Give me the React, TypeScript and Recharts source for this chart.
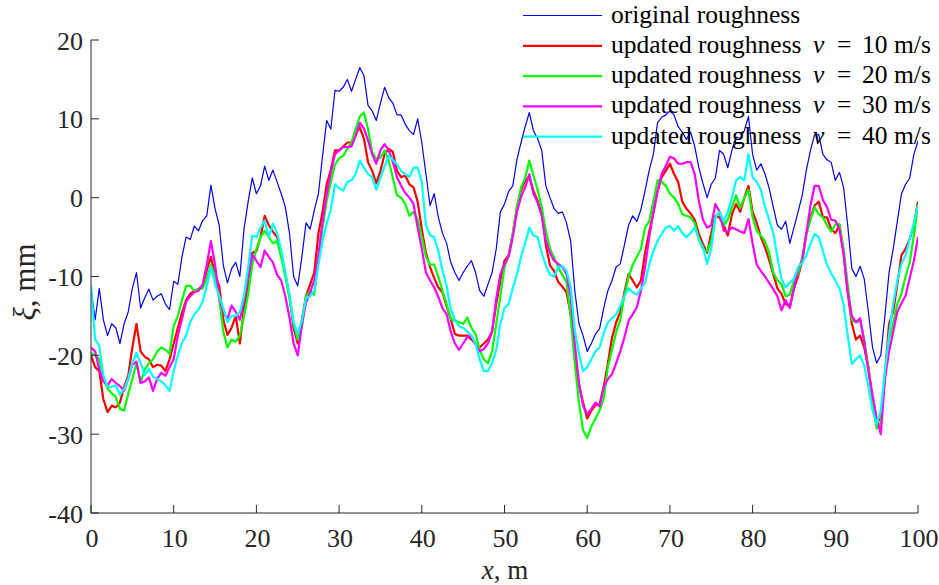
import { Line, LineChart, XAxis, YAxis } from "recharts";

// sampling step along the track, m
const STEP = 0.5;

// original roughness profile, mm (every 0.5 m from 0 to 100 m)
const original = [
  -11.5, -15.5, -11.5, -15.5, -17.5, -16, -16.5, -18.5, -16, -14.5,
  -11.5, -9.5, -14, -12.7, -11.6, -13, -12.5, -12.2, -13.5, -14.2,
  -10.6, -11, -7.5, -5, -5.3, -3.6, -4.2, -2.9, -2.3, 1.6,
  -1.4, -3.5, -8.6, -10.8, -9, -8.2, -10, -4, -0.5, 2.5,
  0.5, 1.5, 4, 2.2, 3.5, 2, 0.5, -1.2, -4.5, -10,
  -11.2, -7.5, -3.2, -4, -1.6, 0.5, 5.3, 9.8, 8.7, 13.6,
  13.5, 14, 15, 13.5, 15, 16.5, 15.5, 11.7, 11, 9.8,
  12, 14, 12.7, 12, 10.5, 10.5, 9.3, 8.5, 8, 10,
  7, 3, -1, 0.5, -2.5, -4.5, -5.8, -8.2, -9.5, -10.5,
  -9.5, -8.7, -8, -9.5, -11.8, -12.5, -11, -9.5, -6.5, -1.8,
  -0.8, 0.8, 1.5, 4.8, 7, 9, 10.8, 8.5, 7.5, 6,
  1.5, 0, -1.4, -2, -1.8, -3.2, -5.5, -11.8, -16, -17.5,
  -19.5, -18.5, -17.3, -16.6, -14, -11.8, -10.5, -8.8, -8.4, -6,
  -3.5, -2.3, -3, -1.5, 0.9, 3.5, 5.5, 9.5, 10.2, 10.5,
  11, 10.5, 9, 8.3, 7.4, 8.3, 6.5, 3.8, 1.8, 0,
  1.7, 2.5, 6, 5.5, 3.8, 6, 7.7, 7.5, 8.5, 10.3,
  5.5, 3.5, 4.3, 3, 1.2, -1.2, -3.5, -4, -3, -5.8,
  -3.8, -1.8, 0.3, 3.5, 6, 8, 8, 5.5, 4.8, 4.5,
  2.2, 3.2, 1.3, -3.5, -9, -10, -8.7, -10.3, -14.5, -19,
  -21, -20, -15, -9.5, -6.5, -3, 0.5, 1.7, 2.5, 5.5,
  7.2,
];

// updated roughness, v = 10 m/s
const v10 = [
  -20, -21.5, -22, -25.6, -27.2, -26.4, -26.6, -26, -24, -22.6,
  -19, -16, -19.5, -20.2, -20.5, -21.5, -21.2, -21.3, -22, -20.5,
  -18.5, -16.5, -14.6, -13, -12.2, -11.8, -11.6, -11.2, -9.2, -7.5,
  -9.8, -11.2, -15.5, -17.4, -16.5, -15, -18.5, -14, -11, -7,
  -6.8, -5, -2.3, -3.5, -4.3, -5, -7.3, -9.7, -12.5, -16.5,
  -18.5, -15.5, -12.5, -11, -9.5, -4.5, -1.8, 1.7, 3.5, 6,
  6, 6.5, 7, 7, 8.1, 8.9, 7.5, 4.5, 3.4, 1.8,
  3.4, 5.5, 6.2, 5.8, 3.4, 2.6, 2.8, 1.7, 1.3, -0.5,
  -4, -7, -8.8, -10.2, -11.4, -12, -13.8, -15.4, -17.3, -17.5,
  -17.5, -17.5, -18, -18.5, -19, -18.5, -18, -17, -13.5, -10.5,
  -8, -7.3, -4.6, -1.2, 0.9, 2.2, 2.6, 0.9, -0.4, -2,
  -6, -8.6, -9.3, -10.7, -11.3, -12, -14.8, -19.5, -23.8, -26,
  -28, -27, -26.3, -26.2, -24, -21, -17.8, -15.8, -14.5, -12,
  -9.7, -10.5, -11.4, -10.5, -7, -4.3, -2, 0.8, 2.6, 3.4,
  4.3, 3, 2, -0.5, -1.4, -2, -2.8, -4.6, -5.9, -7,
  -4.5, -2.3, -2.5, -3.5, -4.8, -2.1, -0.8, -1.8, 0, 1.5,
  -1.8, -3.2, -5, -6.3, -7.9, -9.7, -11.5, -12.2, -13.5, -13.8,
  -11.5, -10, -8, -4.6, -2.5, -1, -0.5, -2.5, -2.5, -4,
  -4.5, -3.5, -7, -12, -16, -18, -17.5, -19, -21.5, -25.5,
  -28.5, -28, -22.5, -16, -14.5, -11, -7.3, -6.5, -5.2, -3.5,
  -0.5,
];

// updated roughness, v = 20 m/s
const v20 = [
  -19.7, -20, -20.5, -23, -24.2, -24.8, -25.3, -26.8, -27, -24.9,
  -23, -21, -23.5, -21.8, -21, -20.5, -19.5, -19, -19.3, -19.8,
  -16.3, -15, -13, -11.2, -11.2, -11.8, -11.6, -11.5, -10.3, -8.5,
  -10, -12.8, -17, -19, -18, -18.3, -17.5, -15, -12.3, -8.5,
  -6.5, -5, -4.2, -5, -5.8, -5.5, -7.5, -10, -12.8, -16,
  -18, -16.5, -12.5, -11.8, -12.3, -8, -3.8, -0.4, 2, 4.2,
  5, 5.3, 6.2, 7, 8.7, 10.3, 10.8, 8.7, 5.8, 4.9,
  5.1, 6, 4.7, 2.5, 0.3, 0, -0.8, -2.3, -1.8, -2.8,
  -5, -7.5, -8.5, -8.5, -10, -11.8, -13.5, -15.4, -15.6, -15.8,
  -16, -15.2, -16.5, -17.3, -19.3, -20.5, -21, -19.5, -16, -12.5,
  -8.8, -7.3, -4.5, -1.2, 1.3, 2.5, 4.7, 2.8, 1, -1.2,
  -4.2, -6.5, -7.6, -8.8, -9.8, -10.7, -15, -21, -26, -29.5,
  -30.5, -29, -28, -27, -25.5, -21.5, -19.3, -17, -15.5, -12.4,
  -10.1, -8.5, -7.5, -6.5, -3.8, -3, -0.5, 2.2, 2, 1.5,
  0.5, 0, -0.8, -2.1, -2.3, -2.5, -3.2, -5.3, -6.5, -6.8,
  -5.5, -2.5, -1.8, -3.5, -2.8, -1.2, 0.3, -1.3, 0, 1,
  -2.5, -4.2, -4.8, -5.5, -7, -9.5, -10.5, -11, -12.5, -12.3,
  -10.5, -9.7, -7.5, -4.6, -2.8, -1.2, -2.1, -2.5, -3.5, -4.3,
  -3.4, -3.4, -6.5, -11, -15.5, -15.8, -15.6, -18, -21.5, -25.8,
  -29.3, -28.5, -22.5, -18, -16, -13.5, -12.2, -10, -8.2, -4.8,
  -0.8,
];

// updated roughness, v = 30 m/s
const v30 = [
  -19, -19.5, -21.8, -23.3, -23.8, -23, -23.5, -23.9, -24.5, -23,
  -21.2, -20.8, -23.5, -23.3, -22.8, -24.5, -23, -22.2, -22.6, -21.5,
  -20.5, -17.5, -15.4, -13.2, -12.5, -12, -11.8, -11, -8.5, -5.5,
  -8.5, -12.6, -14.6, -15.4, -13.7, -14.5, -15.5, -13, -10, -7.2,
  -8, -8.8, -6.7, -7.5, -8.2, -9.8, -10.5, -12.5, -15.2, -18.5,
  -20, -16.1, -13.3, -12, -10.5, -7.2, -3, 0.5, 3.2, 5.5,
  6, 6.4, 6.4, 6.5, 7.8, 9.5, 8.8, 7.3, 5.5, 4.3,
  6, 6.8, 6, 4.5, 2.6, 1.5, 0.6, 0, -0.8, -3.8,
  -6.5, -9.5, -10.5, -11.4, -12.6, -14, -14.8, -17, -18.5, -19.3,
  -18.5, -17.7, -17.5, -18.6, -19.5, -19.2, -18.5, -17, -12.8, -9.7,
  -8.4, -7.5, -5, -1.8, 0.1, 1.3, 3, 0.5, -0.6, -2.3,
  -5.5, -7, -8, -8.4, -8.8, -9.7, -12.5, -18.5, -23.5, -26.4,
  -27.5, -26.8, -26, -26.5, -24, -23, -22.4, -21, -19.5, -17.7,
  -15.6, -14.8, -13.9, -11.8, -8.8, -5, -1.8, 0.8, 3, 4,
  5.2, 5, 4.3, 4.3, 4.5, 4.5, 3, -0.4, -2.8, -3.8,
  -3.5, -0.8, -1.8, -4.2, -4.3, -3.8, -4, -4.3, -4.5, -2.7,
  -5.8, -8.5, -9.3, -10, -10.8, -11.6, -12.5, -14.3, -13, -14,
  -11.5, -9, -8, -4.5, -1, 1.5, 1.5, -0.3, -1.2, -2.8,
  -2.9, -4, -7.1, -12, -15, -15.8, -15.3, -18.3, -22, -25,
  -28, -30, -23, -19.5, -17, -14.5, -13.4, -12.4, -10.2, -8,
  -5,
];

// updated roughness, v = 40 m/s
const v40 = [
  -11.2, -18, -18.8, -22.6, -24, -24, -23.8, -25, -24.3, -23,
  -21, -19.7, -21, -22.5, -21.7, -22.7, -23, -23.3, -23.8, -24.5,
  -22, -20, -18.4, -17.5, -15.8, -14.8, -14.2, -13.2, -11.2, -8.8,
  -11, -12.5, -14, -15.8, -15, -15, -14.5, -12.5, -8.8, -4.8,
  -5, -3.8, -2.9, -5, -3.3, -4.5, -6.6, -9.5, -12.3, -15.8,
  -17.3, -15.6, -12.8, -12.5, -11.8, -8.5, -5.5, -3.3, -1.5, 1.7,
  1.2, 0.9, 2, 2.2, 3, 4.7, 3.8, 3, 2.6, 1,
  2.5, 4, 5.3, 4.8, 4.2, 3.4, 3, 2.6, 3.8, 3.8,
  2, -3.5, -4.8, -5, -6.8, -9.2, -11.2, -14.1, -15.5, -16.3,
  -16.5, -17, -17.5, -18.5, -20.5, -22, -22, -21, -19.3, -16,
  -14, -13.5, -11.5, -9.7, -7.5, -5.8, -3.8, -4.8, -5, -7,
  -8.6, -9.8, -10, -8.8, -8.7, -9.3, -11.3, -16.8, -19.8, -22,
  -21.5, -20.5, -19.5, -19, -17.2, -15.8, -15.3, -14.8, -13.7, -12.5,
  -11.5, -12, -12.3, -11.5, -10.8, -8.5, -6.8, -5.5, -4.6, -3.8,
  -3.6, -4.2, -3.6, -4.5, -5, -4.5, -3.8, -5.2, -6.3, -8.4,
  -6.5, -2.5, -1.8, -3, -1.8, 0, 2.2, 2.6, 2.2, 5.5,
  2.6, 2, 1, -1.2, -2.8, -4.5, -7.5, -10.3, -11.4, -10.8,
  -10.3, -8.8, -8.3, -7.3, -5.9, -4.6, -5, -6.8, -8.5, -9.6,
  -10.5, -11.5, -13.5, -17.5, -21.1, -20.5, -20, -21.3, -24, -27,
  -28.7, -27, -22, -17.5, -13.5, -10.5, -8.4, -7.3, -5.2, -3.2,
  -1,
];

const xTicks = [0, 10, 20, 30, 40, 50, 60, 70, 80, 90, 100];
const yTicks = [-40, -30, -20, -10, 0, 10, 20];

const series = [
  { key: "original", label: "original roughness", speed: null, color: "#0000ff", width: 1.2, values: original },
  { key: "v10", label: "updated roughness", speed: 10, color: "#ff0000", width: 2.2, values: v10 },
  { key: "v20", label: "updated roughness", speed: 20, color: "#00ff00", width: 2.2, values: v20 },
  { key: "v30", label: "updated roughness", speed: 30, color: "#ff00ff", width: 2.2, values: v30 },
  { key: "v40", label: "updated roughness", speed: 40, color: "#00ffff", width: 2.2, values: v40 },
];

const data = original.map((_, i) => {
  const row: Record<string, number> = { x: i * STEP };
  for (const s of series) row[s.key] = s.values[i];
  return row;
});

const INK = "#262626";
const FONT = "'Liberation Serif', 'Times New Roman', serif";
const TICK_LEN = 8;

function BottomTick({ x, y, payload }: any) {
  return (
    <g>
      <line x1={x} x2={x} y1={y} y2={y - TICK_LEN} stroke={INK} />
      <text x={x + 1} y={y + 34} textAnchor="middle" fontSize={26} fill={INK} fontFamily={FONT}>
        {payload.value}
      </text>
    </g>
  );
}

function LeftTick({ x, y, payload }: any) {
  return (
    <g>
      <line x1={x} x2={x + TICK_LEN} y1={y} y2={y} stroke={INK} />
      <text x={x - 8} y={y + 9.5} textAnchor="end" fontSize={26} fill={INK} fontFamily={FONT}>
        {payload.value}
      </text>
    </g>
  );
}

function TopTick({ x, y }: any) {
  return <line x1={x} x2={x} y1={y} y2={y + TICK_LEN} stroke={INK} />;
}

function RightTick({ x, y }: any) {
  return <line x1={x} x2={x - TICK_LEN} y1={y} y2={y} stroke={INK} />;
}

export default function App() {
  return (
    <div style={{ position: "absolute", left: 0, top: 0, width: 939, height: 585, overflow: "hidden", background: "#fff" }}>
      <LineChart width={939} height={585} data={data} margin={{ top: 40, right: 21, bottom: 32, left: 31 }}>
        <XAxis
          dataKey="x"
          type="number"
          domain={[0, 100]}
          ticks={xTicks}
          interval={0}
          allowDataOverflow
          height={40}
          tickSize={0}
          tickMargin={0}
          tickLine={false}
          axisLine={{ stroke: INK }}
          tick={<BottomTick />}
        />
        <XAxis
          xAxisId="top"
          orientation="top"
          type="number"
          domain={[0, 100]}
          ticks={xTicks}
          interval={0}
          height={0}
          tickSize={0}
          tickMargin={0}
          tickLine={false}
          axisLine={{ stroke: INK }}
          tick={<TopTick />}
        />
        <YAxis
          type="number"
          domain={[-40, 20]}
          ticks={yTicks}
          interval={0}
          allowDataOverflow
          width={60}
          tickSize={0}
          tickMargin={0}
          tickLine={false}
          axisLine={{ stroke: INK }}
          tick={<LeftTick />}
        />
        <YAxis
          yAxisId="right"
          orientation="right"
          type="number"
          domain={[-40, 20]}
          ticks={yTicks}
          interval={0}
          width={0}
          tickSize={0}
          tickMargin={0}
          tickLine={false}
          axisLine={{ stroke: INK }}
          tick={<RightTick />}
        />
        {series.map((s) => (
          <Line
            key={s.key}
            dataKey={s.key}
            stroke={s.color}
            strokeWidth={s.width}
            dot={false}
            activeDot={false}
            isAnimationActive={false}
            strokeLinejoin="round"
          />
        ))}
      </LineChart>

      {/* axis titles and legend drawn over the chart */}
      <svg width={939} height={585} style={{ position: "absolute", left: 0, top: 0, pointerEvents: "none" }}>
        <text x={505} y={579} textAnchor="middle" fontSize={27} fill={INK} fontFamily={FONT}>
          <tspan fontStyle="italic">x</tspan>, m
        </text>
        <text
          transform="translate(35 282) rotate(-90)"
          textAnchor="middle"
          fontSize={31}
          fill={INK}
          fontFamily={FONT}
        >
          <tspan fontStyle="italic">ξ</tspan>, mm
        </text>
        {series.map((s, i) => {
          const cy = 15.5 + i * 30.3;
          return (
            <g key={s.key}>
              <line x1={523} x2={602} y1={cy} y2={cy} stroke={s.color} strokeWidth={s.width} />
              <text x={611} y={cy + 7} fontSize={25.5} fill="#000" fontFamily={FONT}>
                {s.label}
                {s.speed !== null && (
                  <>
                    <tspan x={813} fontStyle="italic">v</tspan>
                    <tspan x={837}>=</tspan>
                    <tspan x={862}>{s.speed}</tspan>
                    <tspan x={894}>m/s</tspan>
                  </>
                )}
              </text>
            </g>
          );
        })}
      </svg>
    </div>
  );
}
